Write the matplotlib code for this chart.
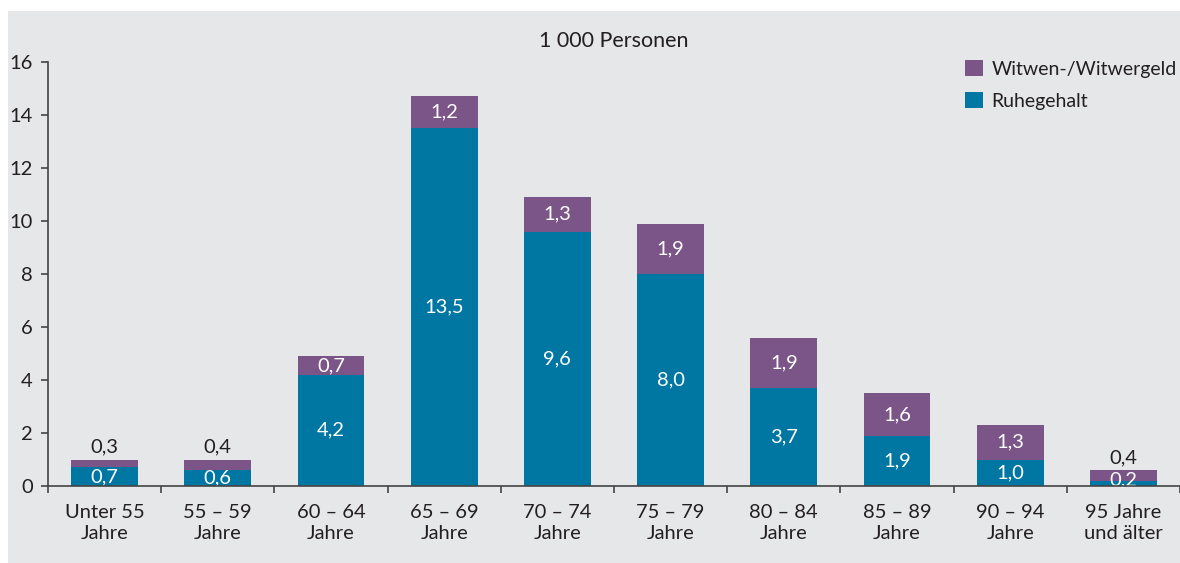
import matplotlib.pyplot as plt
import matplotlib.patches as mpatches
import numpy as np

plt.rcParams['font.family'] = ['Lato', 'DejaVu Sans']

categories = ["Unter 55\nJahre", "55 – 59\nJahre", "60 – 64\nJahre", "65 – 69\nJahre",
              "70 – 74\nJahre", "75 – 79\nJahre", "80 – 84\nJahre", "85 – 89\nJahre",
              "90 – 94\nJahre", "95 Jahre\nund älter"]
ruhegehalt = [0.7, 0.6, 4.2, 13.5, 9.6, 8.0, 3.7, 1.9, 1.0, 0.2]
witwengeld = [0.3, 0.4, 0.7, 1.2, 1.3, 1.9, 1.9, 1.6, 1.3, 0.4]

blue = "#0076a3"
purple = "#7b5488"
bg = "#e6e7e9"
ink = "#231f20"
fs = 14.5

fig = plt.figure(figsize=(11.8, 5.63), dpi=100, facecolor="white")
# grey panel behind the chart
fig.patches.append(mpatches.Rectangle((8 / 1180, 0), 1, 552 / 563, transform=fig.transFigure,
                                      facecolor=bg, edgecolor="none", zorder=-10))

ax = fig.add_axes([48 / 1180, 77 / 563, 1132 / 1180, 424 / 563])
ax.set_facecolor("none")

x = np.arange(len(categories))
w = 0.59
ax.bar(x, ruhegehalt, w, color=blue, label="Ruhegehalt", zorder=2)
ax.bar(x, witwengeld, w, bottom=ruhegehalt, color=purple, label="Witwen-/Witwergeld", zorder=2)

fmt = lambda v: f"{v:.1f}".replace(".", ",")
for xi, r, wv in zip(x, ruhegehalt, witwengeld):
    ax.text(xi, max(r / 2, 0.25), fmt(r), ha="center", va="center", color="white", fontsize=fs, zorder=3)
    if wv >= 0.5:
        ax.text(xi, r + wv / 2, fmt(wv), ha="center", va="center", color="white", fontsize=fs, zorder=3)
    else:
        ax.annotate(fmt(wv), (xi, r + wv), xytext=(0, 3), textcoords="offset points",
                    ha="center", va="bottom", color=ink, fontsize=fs, zorder=3)

ax.set_xlim(-0.5, len(categories) - 0.5)
ax.set_ylim(0, 16)
ax.set_yticks(range(0, 17, 2))
ax.set_xticks(x)
ax.set_xticklabels(categories, fontsize=fs, color=ink, linespacing=1.3)
ax.set_xticks(np.arange(-0.5, len(categories), 1), minor=True)
ax.tick_params(axis="x", which="major", length=0, pad=13)
ax.tick_params(axis="x", which="minor", length=5, width=1.2, color="#444444")
ax.tick_params(axis="y", length=5, width=1.2, color="#444444", labelsize=fs, labelcolor=ink, pad=6)

for s in ["top", "right"]:
    ax.spines[s].set_visible(False)
for s in ["left", "bottom"]:
    ax.spines[s].set_color("#444444")
    ax.spines[s].set_linewidth(1.2)
ax.spines["bottom"].set_zorder(4)

ax.set_title("1 000 Personen", fontsize=15.5, color=ink, pad=11)

handles, labels = ax.get_legend_handles_labels()
ax.legend(handles[::-1], labels[::-1], loc="upper right", bbox_to_anchor=(0.997, 1.005),
          frameon=False, fontsize=14, handlelength=0.88, handleheight=0.88,
          handletextpad=0.45, labelspacing=0.75, borderpad=0, borderaxespad=0, labelcolor=ink)

fig.savefig("out.png", dpi=100, facecolor="white")
